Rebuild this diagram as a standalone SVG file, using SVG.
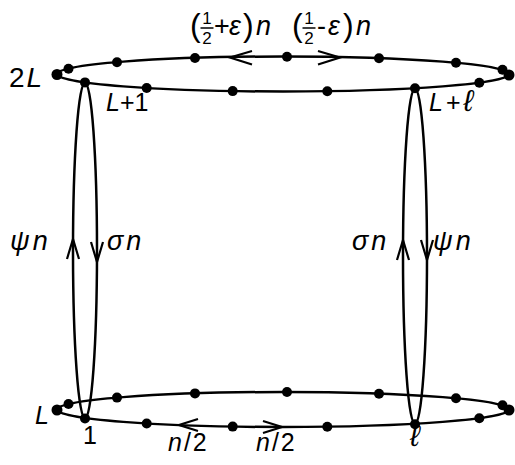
<svg xmlns="http://www.w3.org/2000/svg" width="515" height="465" viewBox="0 0 515 465">
<style>
.ln{fill:none;stroke:#000;stroke-width:2.5}
.ar{fill:none;stroke:#000;stroke-width:2.2;stroke-linejoin:miter}
.dot{fill:#000}
text{font-family:"Liberation Sans",Arial,sans-serif;font-size:25px;fill:#000}
.it{font-style:italic}
.gr{font-size:27px;font-style:italic;letter-spacing:3px}
.fr{font-size:17px}
.pa{font-size:32px}
.el{font-size:30px;font-style:italic}
</style>
<rect width="515" height="465" fill="#fff"/>
<g id="connectors">
<ellipse class="ln" cx="283" cy="74" rx="226" ry="17.5"/>
<ellipse class="ln" cx="283" cy="409.5" rx="226" ry="17.5"/>
<ellipse class="ln" cx="85" cy="250.4" rx="12" ry="168"/>
<ellipse class="ln" cx="415" cy="256.2" rx="12" ry="168"/>
<polyline class="ar" points="252,51 230,57.5 252,64.5"/>
<polyline class="ar" points="318,51 340,57.5 318,64.5"/>
<polyline class="ar" points="198,419 179,425 198,431"/>
<polyline class="ar" points="263,421 282,427 263,433"/>
<polyline class="ar" points="67,259 73,239 79,259"/>
<polyline class="ar" points="91,242 97,262 103,242"/>
<polyline class="ar" points="397,260 403,240 409,260"/>
<polyline class="ar" points="421,240 427,260 433,240"/>
</g>
<g id="top-dots">
<circle class="dot" cx="57" cy="74.5" r="5.5"/>
<circle class="dot" cx="68.5" cy="68.8" r="5"/>
<circle class="dot" cx="117" cy="62.3" r="5"/>
<circle class="dot" cx="195" cy="58" r="5"/>
<circle class="dot" cx="287" cy="56.7" r="5"/>
<circle class="dot" cx="379" cy="58.3" r="5"/>
<circle class="dot" cx="456" cy="62.8" r="5"/>
<circle class="dot" cx="502.5" cy="69.8" r="5"/>
<circle class="dot" cx="509" cy="75" r="5.5"/>
<circle class="dot" cx="146.7" cy="88" r="5"/>
<circle class="dot" cx="232.7" cy="91.1" r="5"/>
<circle class="dot" cx="327.3" cy="91.2" r="5"/>
<circle class="dot" cx="479.3" cy="82.7" r="5"/>
</g>
<g id="bottom-dots">
<circle class="dot" cx="57" cy="410" r="5.5"/>
<circle class="dot" cx="68.5" cy="404" r="5"/>
<circle class="dot" cx="117" cy="397.6" r="5"/>
<circle class="dot" cx="195" cy="393.4" r="5"/>
<circle class="dot" cx="287" cy="392" r="5"/>
<circle class="dot" cx="379" cy="393.7" r="5"/>
<circle class="dot" cx="456" cy="398.2" r="5"/>
<circle class="dot" cx="502.5" cy="405.3" r="5"/>
<circle class="dot" cx="509" cy="410" r="5.5"/>
<circle class="dot" cx="146.7" cy="423.5" r="5"/>
<circle class="dot" cx="232.7" cy="426.6" r="5"/>
<circle class="dot" cx="327.3" cy="426.7" r="5"/>
<circle class="dot" cx="479.3" cy="418.2" r="5"/>
</g>
<g id="v-2L"><text x="9" y="87" style="font-size:28px;letter-spacing:2px">2<tspan class="it">L</tspan></text></g>
<g id="v-L1"><circle class="dot" cx="85" cy="82.4" r="5"/><text x="106" y="111"><tspan class="it">L</tspan>+1</text></g>
<g id="v-Ll"><circle class="dot" cx="415" cy="88.2" r="5"/><text x="429" y="111" style="letter-spacing:3px"><tspan class="it">L</tspan>+<tspan class="el">ℓ</tspan></text></g>
<g id="v-L"><text x="35" y="424" class="it">L</text></g>
<g id="v-1"><circle class="dot" cx="85" cy="418.4" r="5"/><text x="83" y="444">1</text></g>
<g id="v-l"><circle class="dot" cx="415" cy="424.2" r="5"/><text x="410" y="446" class="el">ℓ</text></g>
<g id="labels">
<text x="10" y="250" class="gr">ψn</text>
<text x="107" y="250" class="gr">σn</text>
<text x="352" y="250" class="gr">σn</text>
<text x="433" y="250" class="gr">ψn</text>
<text x="168" y="451" style="letter-spacing:2px"><tspan class="it">n</tspan>/2</text>
<text x="256" y="451" style="letter-spacing:2px"><tspan class="it">n</tspan>/2</text>
<text x="190" y="36" class="pa">(</text>
<text x="207" y="24" class="fr" text-anchor="middle">1</text>
<line x1="200.5" y1="28" x2="213.5" y2="28" stroke="#000" stroke-width="1.5"/>
<text x="207" y="44" class="fr" text-anchor="middle">2</text>
<text x="214" y="35" style="font-size:27px">+</text>
<text x="229" y="35" class="it" style="font-size:27px">ε</text>
<text x="243" y="36" class="pa">)</text>
<text x="256" y="35" class="it" style="font-size:27px">n</text>
<text x="292" y="36" class="pa">(</text>
<text x="309" y="24" class="fr" text-anchor="middle">1</text>
<line x1="302.5" y1="28" x2="315.5" y2="28" stroke="#000" stroke-width="1.5"/>
<text x="309" y="44" class="fr" text-anchor="middle">2</text>
<text x="317" y="35" style="font-size:27px">-</text>
<text x="328" y="35" class="it" style="font-size:27px">ε</text>
<text x="343" y="36" class="pa">)</text>
<text x="356" y="35" class="it" style="font-size:27px">n</text>
</g>
</svg>
